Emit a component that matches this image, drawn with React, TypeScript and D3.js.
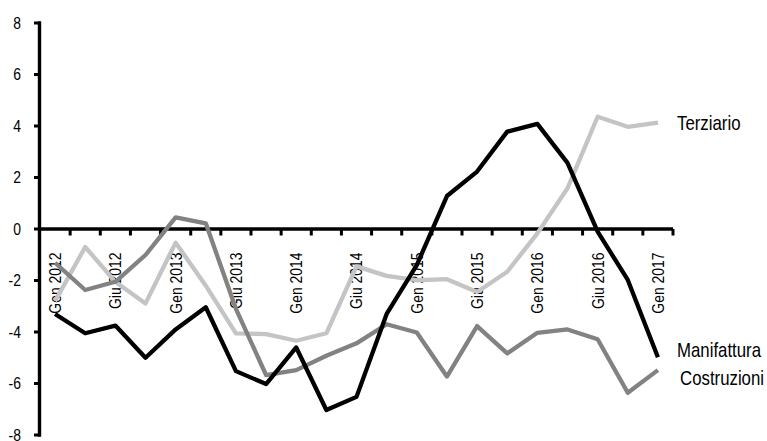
import React from "react";
import * as d3 from "d3";

const categories: string[] = [
  "Gen 2012", "Apr 2012", "Giu 2012", "Ott 2012",
  "Gen 2013", "Apr 2013", "Giu 2013", "Ott 2013",
  "Gen 2014", "Apr 2014", "Giu 2014", "Ott 2014",
  "Gen 2015", "Apr 2015", "Giu 2015", "Ott 2015",
  "Gen 2016", "Apr 2016", "Giu 2016", "Ott 2016",
  "Gen 2017",
];
const tickLabels: string[] = [
  "Gen 2012", "Giu 2012", "Gen 2013", "Giu 2013", "Gen 2014", "Giu 2014",
  "Gen 2015", "Giu 2015", "Gen 2016", "Giu 2016", "Gen 2017",
];
const yTicks: number[] = [-8, -6, -4, -2, 0, 2, 4, 6, 8];

const manifattura: number[] = [
  -3.3, -4.05, -3.75, -5.0, -3.9, -3.04, -5.52, -6.02, -4.6, -7.03, -6.52,
  -3.3, -1.4, 1.28, 2.23, 3.78, 4.08, 2.57, -0.1, -1.98, -4.98,
];
const terziario: number[] = [
  -2.8, -0.7, -2.05, -2.89, -0.53, -2.2, -4.05, -4.08, -4.34, -4.05, -1.45,
  -1.82, -1.99, -1.95, -2.45, -1.66, -0.17, 1.58, 4.36, 3.97, 4.13,
];
const costruzioni: number[] = [
  -1.31, -2.37, -2.05, -1.01, 0.45, 0.22, -3.1, -5.67, -5.48, -4.92, -4.44,
  -3.7, -4.02, -5.73, -3.77, -4.83, -4.03, -3.9, -4.28, -6.36, -5.48,
];

const series = [
  { name: "Terziario", values: terziario, color: "#c4c4c4", lx: 677, ly: 130 },
  { name: "Costruzioni", values: costruzioni, color: "#828282", lx: 680, ly: 385 },
  { name: "Manifattura", values: manifattura, color: "#000000", lx: 677, ly: 357 },
];

const W = 767;
const H = 441;
const FONT = "'Liberation Sans', Arial, sans-serif";
const SX = 0.82; // horizontal condensation to mimic a narrow face

export default function App() {
  const x = d3
    .scaleBand<number>()
    .domain(categories.map((_, i) => i))
    .range([40, 673])
    .paddingInner(0)
    .paddingOuter(0);
  const bw = x.bandwidth();
  const cx = (i: number) => (x(i) as number) + bw / 2;
  const y = d3.scaleLinear().domain([-8, 8]).range([435, 23]);

  const line = d3
    .line<number>()
    .x((_, i) => cx(i))
    .y((d) => y(d));

  const xTickPos = categories.map((_, i) => (x(i) as number) + bw);
  const labelIdx = categories
    .map((c, i) => ({ c, i }))
    .filter((d) => tickLabels.includes(d.c));

  return (
    <svg
      width={W}
      height={H}
      style={{ position: "fixed", left: 0, top: 0, background: "#fff" }}
      fontFamily={FONT}
    >
      <rect x={0} y={0} width={W} height={H} fill="#fff" />
      {/* y axis */}
      <line x1={39.5} x2={39.5} y1={y(8) - 1.7} y2={y(-8) + 1.7} stroke="#000" strokeWidth={3.4} />
      {yTicks.map((t) => (
        <g key={t}>
          <line x1={34} x2={39.5} y1={y(t)} y2={y(t)} stroke="#000" strokeWidth={3} />
          <g transform={`translate(21, ${y(t)}) scale(${SX}, 1)`}>
            <text x={0} y={0} dy="0.33em" textAnchor="end" fontSize={17} fill="#000">
              {t}
            </text>
          </g>
        </g>
      ))}
      {/* x axis labels */}
      {labelIdx.map(({ c, i }) => (
        <g key={c} transform={`translate(${cx(i)}, 252.5) rotate(-90) scale(${SX}, 1)`}>
          <text x={0} y={0} dy="0.35em" textAnchor="end" fontSize={17} fill="#000">
            {c}
          </text>
        </g>
      ))}
      {/* x axis */}
      <line x1={38} x2={673} y1={y(0)} y2={y(0)} stroke="#000" strokeWidth={3.4} />
      {xTickPos.map((p, i) => (
        <line key={i} x1={p} x2={p} y1={y(0)} y2={y(0) + 6.5} stroke="#000" strokeWidth={3} />
      ))}
      {/* series */}
      {series.map((s) => (
        <path
          key={s.name}
          d={line(s.values) || ""}
          fill="none"
          stroke={s.color}
          strokeWidth={4.3}
          strokeLinejoin="round"
        />
      ))}
      {series.map((s) => (
        <g key={s.name + "l"} transform={`translate(${s.lx}, ${s.ly}) scale(${SX}, 1)`}>
          <text x={0} y={0} fontSize={20.5} fill="#000">
            {s.name}
          </text>
        </g>
      ))}
    </svg>
  );
}
